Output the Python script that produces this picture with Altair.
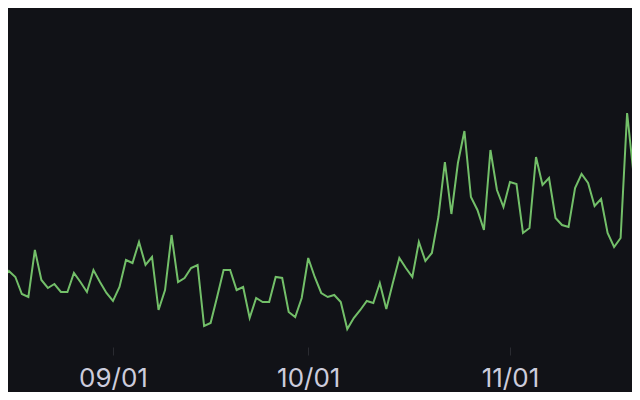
import altair as alt
import pandas as pd

# Daily series, 2023-08-14 .. 2023-11-21 (arbitrary units)
start_date = "2023-08-14"
values = [
    67, 67, 74, 68, 51, 48, 95, 65, 57, 61, 53, 53, 72, 63, 53, 75, 63, 52,
    44, 58, 85, 82, 103, 80, 88, 35, 55, 110,
    63, 67, 77, 80, 19, 22, 48, 75, 75, 55,
    58, 27, 47, 43, 43, 68, 67, 33, 28, 47,
    87, 68, 52, 48, 50, 43, 16, 27, 35, 44,
    42, 62, 36, 62, 87, 77, 68, 103, 84, 92,
    128, 183, 131, 182, 214, 148, 135, 115, 195, 155,
    138, 163, 161, 112, 117, 188, 160, 167, 127, 120,
    118, 157, 171, 162, 139, 146, 112, 98, 107, 232,
    170, 137,
]
tick_dates = [(2023, 9, 1), (2023, 10, 1), (2023, 11, 1)]

df = pd.DataFrame({
    "date": pd.date_range(start_date, periods=len(values), freq="D"),
    "value": values,
})

x_domain = [
    alt.DateTime(year=2023, month=8, date=15, hours=20, minutes=53),
    alt.DateTime(year=2023, month=11, date=19, hours=18),
]

chart = (
    alt.Chart(df)
    .mark_line(color="#73BF69", strokeWidth=2, clip=True)
    .encode(
        x=alt.X(
            "date:T",
            scale=alt.Scale(domain=x_domain, nice=False),
            axis=alt.Axis(
                values=[alt.DateTime(year=y, month=m, date=d) for (y, m, d) in tick_dates],
                format="%m/%d",
                title=None,
                grid=False,
                domain=False,
                ticks=True,
                tickColor="#2a2b31",
                tickSize=8,
                offset=2,
                labelPadding=10,
                labelFont="Inter",
                labelFontSize=26,
                labelColor="#ccccdc",
            ),
        ),
        y=alt.Y(
            "value:Q",
            scale=alt.Scale(domain=[0, 337], nice=False, zero=True),
            axis=None,
        ),
    )
    .properties(
        width=624,
        height=337,
        autosize=alt.AutoSizeParams(type="none"),
        padding={"left": 0, "right": 0, "top": 0, "bottom": 47},
        background="#111217",
    )
    .configure_view(stroke=None)
)

chart.save("out.html", embed_options={"renderer": "svg", "actions": False})
